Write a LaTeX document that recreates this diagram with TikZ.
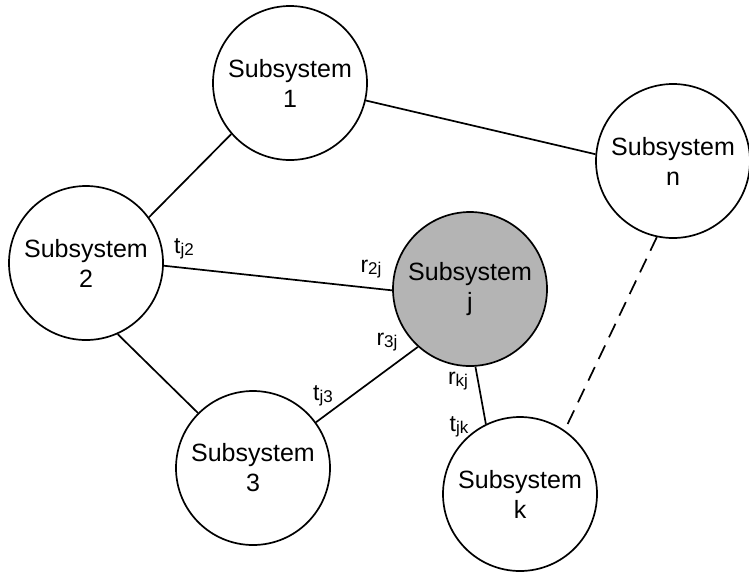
\documentclass[tikz,border=0pt]{standalone}
\usepackage{fontspec}
\setmainfont{Liberation Sans}
\definecolor{jgray}{RGB}{180,180,180}
\newcommand{\lbl}[2]{#1\raisebox{-1.5pt}{\fontsize{17}{17}\selectfont #2}}
\begin{document}
\begin{tikzpicture}[x=1pt,y=-1pt,
  sub/.style={circle,draw,line width=1.7pt,minimum size=154pt,inner sep=0pt,align=center,
    font=\fontsize{25}{30}\selectfont,fill=white},
  lab/.style={inner sep=0pt,font=\fontsize{23}{23}\selectfont},
  conn/.style={line width=1.7pt},
  dconn/.style={line width=1.7pt,dash pattern=on 15pt off 9pt}]
\useasboundingbox (0,0) rectangle (749,571);
\node[sub] (s1) at (290,83) {Subsystem\\1};
\node[sub] (sn) at (673,161) {Subsystem\\n};
\node[sub] (s2) at (86,263) {Subsystem\\2};
\node[sub] (s3) at (253,468) {Subsystem\\3};
\node[sub,fill=jgray] (sj) at (470,289) {Subsystem\\j};
\node[sub] (sk) at (520,494) {Subsystem\\k};
\draw[conn] (s1.221) -- (s2.36.6);
\draw[conn] (s1.347) -- (sn.175.4);
\draw[conn] (s2.358.5) -- (sj.181);
\draw[conn] (s2.294.6) -- (s3.135.5);
\draw[conn] (s3.36.7) -- (sj.228);
\draw[conn] (sj.274.5) -- (sk.116);
\draw[dconn] (sn.258) -- (sk.55.7);
\node[lab] (tj2) at (184,249) {\lbl{t}{j2}};
\node[lab] (r2j) at (371,269) {\lbl{r}{2j}};
\node[lab] (r3j) at (387,342) {\lbl{r}{3j}};
\node[lab] (tj3) at (323,396) {\lbl{t}{j3}};
\node[lab] (rkj) at (458,381) {\lbl{r}{kj}};
\node[lab] (tjk) at (459,427) {\lbl{t}{jk}};
\end{tikzpicture}
\end{document}
